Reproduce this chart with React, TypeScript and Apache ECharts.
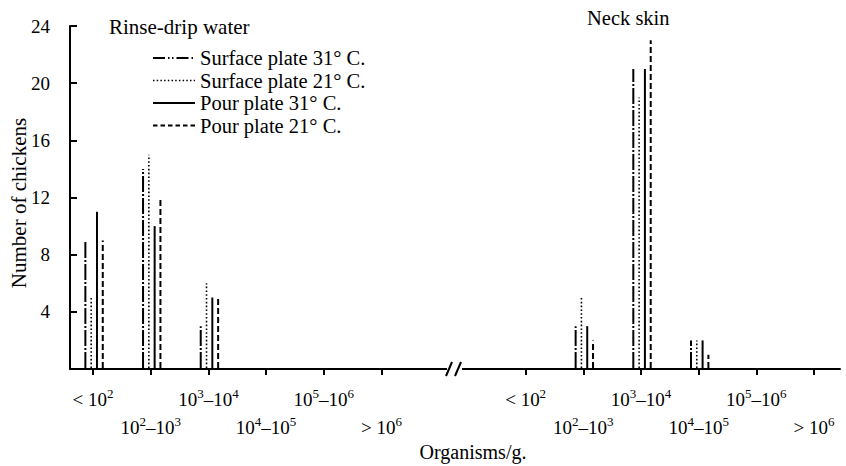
import { useEffect, useRef } from 'react';
import * as echarts from 'echarts';

const CATEGORIES = ['< 10²', '10²–10³', '10³–10⁴', '10⁴–10⁵', '10⁵–10⁶', '> 10⁶'];
const PANEL_TITLES = ['Rinse-drip water', 'Neck skin'];
const SERIES_NAMES = ['Surface plate 31° C.', 'Surface plate 21° C.', 'Pour plate 31° C.', 'Pour plate 21° C.'];
const Y_TITLE = 'Number of chickens';
const X_TITLE = 'Organisms/g.';

// Rinse-drip water (number of chickens per count class)
const RINSE_SURFACE_31 = [9, 14, 3, 0, 0, 0];
const RINSE_SURFACE_21 = [5, 15, 6, 0, 0, 0];
const RINSE_POUR_31 = [11, 10, 5, 0, 0, 0];
const RINSE_POUR_21 = [9, 12, 5, 0, 0, 0];

// Neck skin
const NECK_SURFACE_31 = [0, 3, 21, 2, 0, 0];
const NECK_SURFACE_21 = [0, 5, 19, 2, 0, 0];
const NECK_POUR_31 = [0, 3, 21, 2, 0, 0];
const NECK_POUR_21 = [0, 2, 23, 1, 0, 0];

const Y_MAX = 24;
const Y_STEP = 4;

const RIGHT_START = 7.5; // position of the second panel's first class on the x scale
const BAR_SPACING = 5.8;
const BAR_SHIFT = 1;
const FONT = 'Liberation Serif, Times New Roman, serif';

const DASHES: (number[] | null)[] = [
  [16, 2, 2, 2],
  [1.6, 2.2],
  null,
  [6, 3],
];
const LEGEND_DASHES: (number[] | null)[] = [
  [12, 3, 1.5, 2.5, 1.5, 3],
  [1.5, 2.2],
  null,
  [4.5, 3],
];
const LINE_WIDTHS = [2, 1.6, 2, 2];

const LEFT_SERIES = [RINSE_SURFACE_31, RINSE_SURFACE_21, RINSE_POUR_31, RINSE_POUR_21];
const RIGHT_SERIES = [NECK_SURFACE_31, NECK_SURFACE_21, NECK_POUR_31, NECK_POUR_21];

const leftX = CATEGORIES.map((_, i) => i);
const rightX = CATEGORIES.map((_, i) => RIGHT_START + i);
const tickValues = [...leftX, ...rightX];
const upperRowTicks = tickValues.filter((_, i) => (i % CATEGORIES.length) % 2 === 0);
const lowerRowTicks = tickValues.filter((_, i) => (i % CATEGORIES.length) % 2 === 1);

const SUP: Record<string, string> = { '²': '2', '³': '3', '⁴': '4', '⁵': '5', '⁶': '6' };

function richText(s: string) {
  let out = '';
  let buf = '';
  for (const ch of s) {
    if (SUP[ch]) {
      if (buf) out += `{b|${buf}}`;
      buf = '';
      out += `{s|${SUP[ch]}}`;
    } else buf += ch;
  }
  if (buf) out += `{b|${buf}}`;
  return out;
}

function labelFor(value: number) {
  const idx = tickValues.findIndex((t) => Math.abs(t - value) < 1e-6);
  if (idx < 0) return '';
  return richText(CATEGORIES[idx % CATEGORIES.length]);
}

const RICH = {
  b: { fontFamily: FONT, fontSize: 19, color: '#000', lineHeight: 22, verticalAlign: 'bottom' },
  s: { fontFamily: FONT, fontSize: 13, color: '#000', lineHeight: 13, verticalAlign: 'top' },
};

function buildOption() {
  const series = SERIES_NAMES.map((name, s) => ({
    name,
    type: 'custom',
    coordinateSystem: 'cartesian2d',
    xAxisIndex: 0,
    yAxisIndex: 0,
    data: [
      ...LEFT_SERIES[s].map((v, i) => [leftX[i], v]),
      ...RIGHT_SERIES[s].map((v, i) => [rightX[i], v]),
    ],
    renderItem: (params: any, api: any) => {
      const x = api.value(0);
      const v = api.value(1);
      if (!v) return null;
      const base = api.coord([x, 0]);
      const top = api.coord([x, v]);
      const dx = (params.seriesIndex - 1.5) * BAR_SPACING + BAR_SHIFT;
      return {
        type: 'line',
        shape: { x1: base[0] + dx, y1: base[1] - 1, x2: base[0] + dx, y2: top[1] },
        style: {
          stroke: '#000',
          lineWidth: LINE_WIDTHS[params.seriesIndex],
          lineDash: DASHES[params.seriesIndex] || undefined,
          fill: null,
        },
      };
    },
  }));

  const legendElems: any[] = [];
  SERIES_NAMES.forEach((name, s) => {
    const y = 58 + s * 22.5;
    legendElems.push({
      type: 'line',
      shape: { x1: 153, y1: y, x2: 195, y2: y },
      style: { stroke: '#000', lineWidth: LINE_WIDTHS[s], lineDash: LEGEND_DASHES[s] || undefined },
    });
    legendElems.push({
      type: 'text',
      x: 200,
      y,
      style: { text: name, fontFamily: FONT, fontSize: 20.5, fill: '#000', align: 'left', verticalAlign: 'middle' },
    });
  });

  const baseX = {
    type: 'value',
    min: -0.4,
    max: 12.95,
    position: 'bottom',
    offset: 0,
    splitLine: { show: false },
  };

  return {
    animation: false,
    backgroundColor: '#fff',
    textStyle: { fontFamily: FONT, color: '#000' },
    grid: { left: 70, top: 26, width: 770, height: 343, containLabel: false },
    xAxis: [
      {
        ...baseX,
        axisLine: { show: true, onZero: false, lineStyle: { color: '#000', width: 2 } },
        axisTick: {
          show: true,
          customValues: tickValues,
          length: 6,
          lineStyle: { color: '#000', width: 2 },
        },
        axisLabel: {
          customValues: upperRowTicks,
          formatter: (v: number) => labelFor(v),
          rich: RICH,
          margin: 18,
        },
      },
      {
        ...baseX,
        axisLine: { show: false, onZero: false },
        axisTick: { show: false },
        axisLabel: {
          customValues: lowerRowTicks,
          formatter: (v: number) => labelFor(v),
          rich: RICH,
          margin: 46,
        },
      },
    ],
    yAxis: {
      type: 'value',
      min: 0,
      max: Y_MAX,
      interval: Y_STEP,
      splitLine: { show: false },
      axisLine: { show: true, onZero: false, lineStyle: { color: '#000', width: 2 } },
      axisTick: { show: true, inside: true, length: 7, lineStyle: { color: '#000', width: 2 } },
      axisLabel: {
        formatter: (v: number) => (v === 0 ? '' : String(v)),
        fontFamily: FONT,
        fontSize: 19,
        color: '#000',
        margin: 20,
      },
    },
    series,
    graphic: [
      {
        type: 'text',
        x: 19,
        y: 203,
        rotation: Math.PI / 2,
        style: { text: Y_TITLE, fontFamily: FONT, fontSize: 21, fill: '#000', align: 'center', verticalAlign: 'middle' },
      },
      {
        type: 'text',
        x: 109,
        y: 27,
        style: { text: PANEL_TITLES[0], fontFamily: FONT, fontSize: 21, fill: '#000', align: 'left', verticalAlign: 'middle' },
      },
      {
        type: 'text',
        x: 587,
        y: 18,
        style: { text: PANEL_TITLES[1], fontFamily: FONT, fontSize: 20.5, fill: '#000', align: 'left', verticalAlign: 'middle' },
      },
      ...legendElems,
      {
        type: 'text',
        x: 473,
        y: 452,
        style: { text: X_TITLE, fontFamily: FONT, fontSize: 20, fill: '#000', align: 'center', verticalAlign: 'middle' },
      },
      {
        type: 'rect',
        z: 100,
        shape: { x: 447, y: 364, width: 15, height: 10 },
        style: { fill: '#fff' },
      },
      {
        type: 'line',
        z: 101,
        shape: { x1: 446, y1: 376, x2: 452, y2: 362 },
        style: { stroke: '#000', lineWidth: 2 },
      },
      {
        type: 'line',
        z: 101,
        shape: { x1: 455, y1: 376, x2: 461, y2: 362 },
        style: { stroke: '#000', lineWidth: 2 },
      },
    ],
  };
}

export default function App() {
  const ref = useRef<HTMLDivElement>(null);
  useEffect(() => {
    if (!ref.current) return;
    const chart = echarts.init(ref.current, null, { renderer: 'svg' });
    chart.setOption(buildOption() as any);
    return () => chart.dispose();
  }, []);
  return (
    <div
      ref={ref}
      style={{ position: 'fixed', left: 0, top: 0, width: 846, height: 466, background: '#fff' }}
    />
  );
}
